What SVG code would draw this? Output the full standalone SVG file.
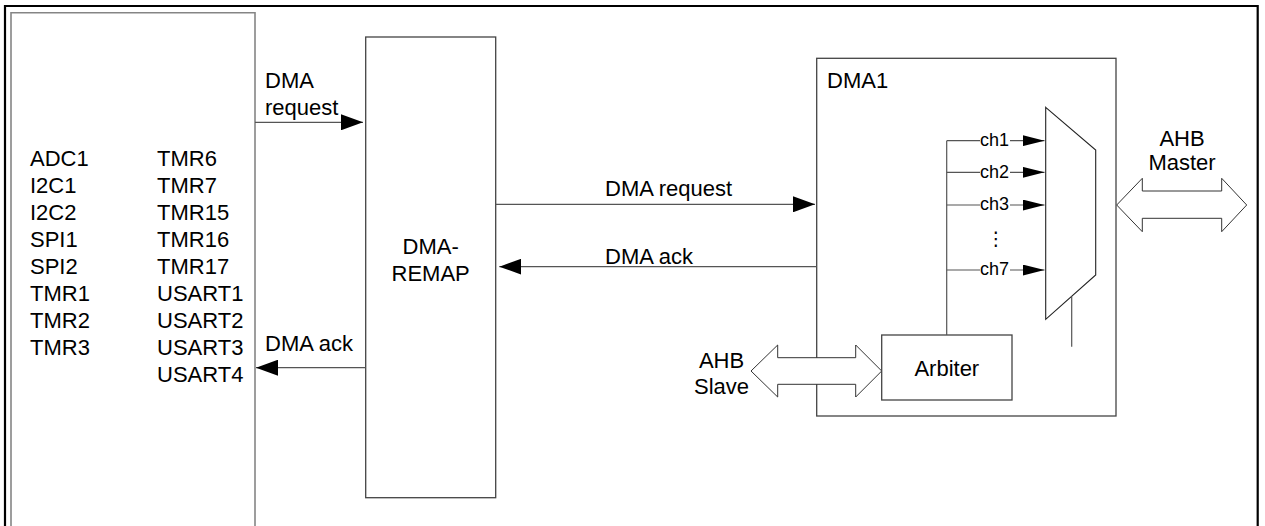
<svg xmlns="http://www.w3.org/2000/svg" width="1265" height="526" viewBox="0 0 1265 526">
<defs>
<style>
text{font-family:"Liberation Sans",Arial,"DejaVu Sans",sans-serif;font-size:22px;fill:#000}
.ch{font-size:18px}
.box{fill:#fff;stroke:#444;stroke-width:1.3}
.gbox{fill:#fff;stroke:#858585;stroke-width:1.6}
.ln{fill:none;stroke:#555;stroke-width:1.2}
.bus{fill:#fff;stroke:#333;stroke-width:1}
</style>
<marker id="ah" viewBox="0 0 22 16" refX="22" refY="8" markerWidth="22" markerHeight="16" markerUnits="userSpaceOnUse" orient="auto">
<path d="M0,0 L22,8 L0,16 Z" fill="#000"/>
</marker>
<marker id="ahs" viewBox="0 0 22 11" refX="22" refY="5.5" markerWidth="22" markerHeight="11" markerUnits="userSpaceOnUse" orient="auto">
<path d="M0,0 L22,5.5 L0,11 Z" fill="#000"/>
</marker>
</defs>
<path d="M5,540 V6 H1257.7 V540" fill="none" stroke="#000" stroke-width="2.2"/>

<g id="peripherals">
<path class="gbox" d="M11,540 V12.7 H255 V540"/>
<text x="30" y="166">ADC1</text>
<text x="30" y="193">I2C1</text>
<text x="30" y="220">I2C2</text>
<text x="30" y="247">SPI1</text>
<text x="30" y="274">SPI2</text>
<text x="30" y="301">TMR1</text>
<text x="30" y="328">TMR2</text>
<text x="30" y="355">TMR3</text>
<text x="157" y="166">TMR6</text>
<text x="157" y="193">TMR7</text>
<text x="157" y="220">TMR15</text>
<text x="157" y="247">TMR16</text>
<text x="157" y="274">TMR17</text>
<text x="157" y="301">USART1</text>
<text x="157" y="328">USART2</text>
<text x="157" y="355">USART3</text>
<text x="157" y="382">USART4</text>
</g>

<g id="dma-remap">
<rect class="box" x="365.7" y="37" width="130" height="460.7"/>
<text x="430.7" y="254" text-anchor="middle">DMA-</text>
<text x="430.7" y="281" text-anchor="middle">REMAP</text>
</g>

<g id="dma1">
<rect class="box" x="816.7" y="58.3" width="299.3" height="357.7"/>
<text x="827" y="88">DMA1</text>
</g>

<g id="arbiter">
<rect class="box" x="881.7" y="335" width="130.3" height="65"/>
<text x="946.8" y="376" text-anchor="middle">Arbiter</text>
</g>

<g id="mux">
<path d="M1045.7,107.3 L1095.7,150 L1095.7,275 L1045.7,319.3 Z" fill="#fff" stroke="#222" stroke-width="1.1"/>
</g>

<g id="ahb-slave">
<path class="bus" d="M751,371 L777.7,345 L777.7,357.7 L855.7,357.7 L855.7,345 L881.7,371 L855.7,397 L855.7,384.3 L777.7,384.3 L777.7,397 Z"/>
<text x="721.5" y="368" text-anchor="middle">AHB</text>
<text x="721.5" y="394" text-anchor="middle">Slave</text>
</g>

<g id="ahb-master">
<path class="bus" d="M1116.7,205 L1142.3,178.3 L1142.3,191 L1221.7,191 L1221.7,178.3 L1246.7,205 L1221.7,231.7 L1221.7,218.3 L1142.3,218.3 L1142.3,231.7 Z"/>
<text x="1182" y="146" text-anchor="middle">AHB</text>
<text x="1182" y="170" text-anchor="middle">Master</text>
</g>

<g id="connectors">
<line class="ln" x1="255" y1="122.3" x2="363" y2="122.3" marker-end="url(#ah)"/>
<text x="265" y="88">DMA</text>
<text x="265" y="115">request</text>
<line class="ln" x1="365.7" y1="367.7" x2="256" y2="367.7" marker-end="url(#ah)"/>
<text x="265" y="351">DMA ack</text>
<line class="ln" x1="495.7" y1="204.3" x2="815" y2="204.3" marker-end="url(#ah)"/>
<text x="605" y="196">DMA request</text>
<line class="ln" x1="816.7" y1="266.7" x2="499.3" y2="266.7" marker-end="url(#ah)"/>
<text x="605" y="264">DMA ack</text>

<line class="ln" x1="946.7" y1="140.7" x2="946.7" y2="335"/>
<line class="ln" x1="946.7" y1="140.7" x2="980" y2="140.7"/>
<line class="ln" x1="1010" y1="140.7" x2="1044.5" y2="140.7" marker-end="url(#ahs)"/>
<text class="ch" x="980" y="146">ch1</text>
<line class="ln" x1="946.7" y1="172.3" x2="980" y2="172.3"/>
<line class="ln" x1="1010" y1="172.3" x2="1044.5" y2="172.3" marker-end="url(#ahs)"/>
<text class="ch" x="980" y="177.6">ch2</text>
<line class="ln" x1="946.7" y1="205" x2="980" y2="205"/>
<line class="ln" x1="1010" y1="205" x2="1044.5" y2="205" marker-end="url(#ahs)"/>
<text class="ch" x="980" y="210.3">ch3</text>
<text x="996" y="245" text-anchor="middle" style="font-family:'DejaVu Sans',sans-serif;font-size:19px">⋮</text>
<line class="ln" x1="946.7" y1="270" x2="980" y2="270"/>
<line class="ln" x1="1010" y1="270" x2="1044.5" y2="270" marker-end="url(#ahs)"/>
<text class="ch" x="980" y="275.3">ch7</text>
<line class="ln" x1="1071.7" y1="296.5" x2="1071.7" y2="346.7"/>
</g>
</svg>
